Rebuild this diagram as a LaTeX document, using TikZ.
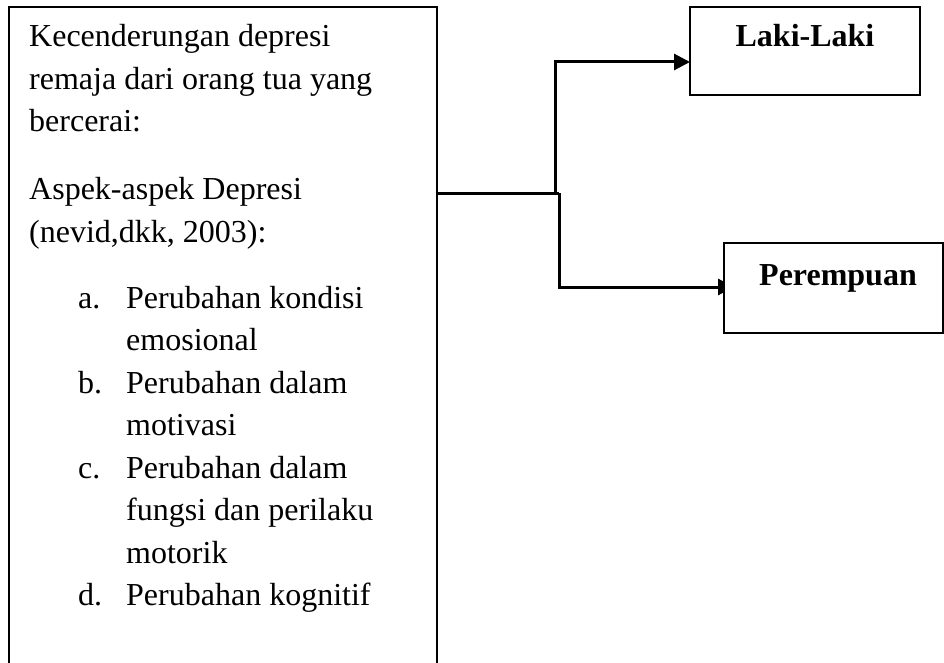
\documentclass[tikz,border=0pt]{standalone}
\usepackage{fontspec}
\setmainfont{Liberation Serif}
\usetikzlibrary{arrows.meta}
\newcommand{\bodyfont}{\fontsize{32}{42.5}\selectfont}
\begin{document}
\begin{tikzpicture}[x=1pt,y=-1pt,
  txt/.style={anchor=base west, inner sep=0pt, font=\bodyfont},
  lbl/.style={anchor=base, inner sep=0pt, font=\bodyfont\bfseries},
  box/.style={draw, fill=white, line width=2.4pt},
  conn/.style={line width=3pt},
  arr/.style={conn, -{Triangle[length=16pt,width=16pt]}}]
\useasboundingbox (0,0) rectangle (944,663);
% left box
\draw[line width=2.6pt] (9,690) -- (9,7) -- (437,7) -- (437,690);
\coordinate (lbR) at (437,193);
% text
\node[txt] (t1) at (29,47) {Kecenderungan depresi};
\node[txt] (t2) at (29,89.5) {remaja dari orang tua yang};
\node[txt] (t3) at (29,132) {bercerai:};
\node[txt] (t4) at (29,200) {Aspek-aspek Depresi};
\node[txt] (t5) at (29,242.5) {(nevid,dkk, 2003):};
\node[txt] (la) at (78,308) {a.};
\node[txt] (a1) at (126,308) {Perubahan kondisi};
\node[txt] (a2) at (126,350.5) {emosional};
\node[txt] (lb) at (78,393) {b.};
\node[txt] (b1) at (126,393) {Perubahan dalam};
\node[txt] (b2) at (126,435.5) {motivasi};
\node[txt] (lc) at (78,478) {c.};
\node[txt] (c1) at (126,478) {Perubahan dalam};
\node[txt] (c2) at (126,520.5) {fungsi dan perilaku};
\node[txt] (c3) at (126,563) {motorik};
\node[txt] (ld) at (78,605.5) {d.};
\node[txt] (d1) at (126,605.5) {Perubahan kognitif};
% connectors (drawn before the boxes so the lower arrowhead is partly hidden)
\coordinate (j1) at (555,193);
\coordinate (j2) at (559,193);
\coordinate (tipL) at (690,62);
\coordinate (tipP) at (734,287);
\draw[conn] (lbR) -- (j2);
\draw[arr] (j1) |- (tipL);
\draw[arr] (j2) |- (tipP);
% right boxes
\node[box, minimum width=230pt, minimum height=88pt, inner sep=0pt] (laki) at (805,51) {};
\node[lbl] (lakit) at (805,47) {Laki-Laki};
\node[box, minimum width=219pt, minimum height=90pt, inner sep=0pt] (perem) at (833.5,288) {};
\node[lbl] (peremt) at (838,285) {Perempuan};
\end{tikzpicture}
\end{document}
